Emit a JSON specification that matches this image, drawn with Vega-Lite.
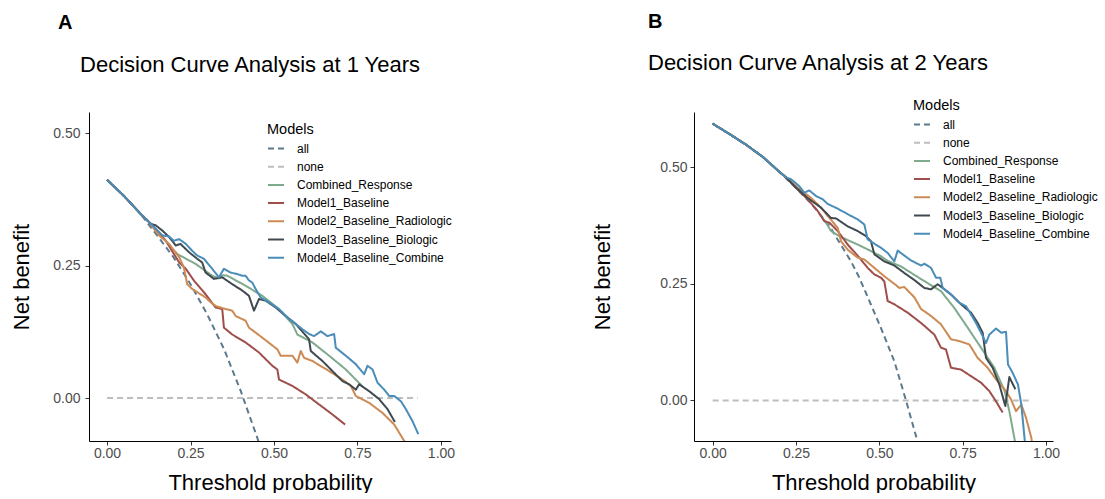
{
  "$schema": "https://vega.github.io/schema/vega-lite/v6.json",
  "padding": {"left": 10, "top": 12, "right": 0, "bottom": 0},
  "background": "white",
  "config": {
    "font": "Liberation Sans",
    "view": {"stroke": null},
    "axis": {"grid": false, "domainColor": "#000000", "domainWidth": 1, "tickColor": "#333333", "tickSize": 4, "tickWidth": 1, "labelColor": "#4D4D4D", "labelFontSize": 14, "labelFont": "Liberation Sans", "titleFont": "Liberation Sans", "titleFontSize": 22, "titleFontWeight": "normal", "titleColor": "#000000"},
    "legend": {"padding": 0}
  },
  "datasets": {
    "A": [
      {"m":"all","t":0,"nb":0.412},{"m":"all","t":0.05,"nb":0.382},{"m":"all","t":0.1,"nb":0.348},{"m":"all","t":0.15,"nb":0.307},{"m":"all","t":0.2,"nb":0.265},{"m":"all","t":0.25,"nb":0.215},{"m":"all","t":0.3,"nb":0.158},{"m":"all","t":0.35,"nb":0.093},{"m":"all","t":0.4,"nb":0.014},{"m":"all","t":0.45,"nb":-0.075},{"m":"all","t":0.47,"nb":-0.115},
      {"m":"none","t":0,"nb":0},{"m":"none","t":0.93,"nb":0},
      {"m":"Combined_Response","t":0.205,"nb":0.276},{"m":"Combined_Response","t":0.21,"nb":0.272},{"m":"Combined_Response","t":0.266,"nb":0.253},{"m":"Combined_Response","t":0.315,"nb":0.231},{"m":"Combined_Response","t":0.335,"nb":0.226},{"m":"Combined_Response","t":0.345,"nb":0.232},{"m":"Combined_Response","t":0.36,"nb":0.231},{"m":"Combined_Response","t":0.415,"nb":0.212},{"m":"Combined_Response","t":0.465,"nb":0.193},{"m":"Combined_Response","t":0.515,"nb":0.168},{"m":"Combined_Response","t":0.555,"nb":0.14},{"m":"Combined_Response","t":0.57,"nb":0.12},{"m":"Combined_Response","t":0.615,"nb":0.105},{"m":"Combined_Response","t":0.665,"nb":0.08},{"m":"Combined_Response","t":0.715,"nb":0.054},{"m":"Combined_Response","t":0.765,"nb":0.022},
      {"m":"Model1_Baseline","t":0,"nb":0.412},{"m":"Model1_Baseline","t":0.05,"nb":0.382},{"m":"Model1_Baseline","t":0.1,"nb":0.348},{"m":"Model1_Baseline","t":0.131,"nb":0.329},{"m":"Model1_Baseline","t":0.146,"nb":0.319},{"m":"Model1_Baseline","t":0.176,"nb":0.297},{"m":"Model1_Baseline","t":0.216,"nb":0.256},{"m":"Model1_Baseline","t":0.236,"nb":0.244},{"m":"Model1_Baseline","t":0.26,"nb":0.222},{"m":"Model1_Baseline","t":0.295,"nb":0.196},{"m":"Model1_Baseline","t":0.325,"nb":0.171},{"m":"Model1_Baseline","t":0.345,"nb":0.168},{"m":"Model1_Baseline","t":0.35,"nb":0.133},{"m":"Model1_Baseline","t":0.375,"nb":0.12},{"m":"Model1_Baseline","t":0.415,"nb":0.105},{"m":"Model1_Baseline","t":0.455,"nb":0.086},{"m":"Model1_Baseline","t":0.495,"nb":0.061},{"m":"Model1_Baseline","t":0.51,"nb":0.054},{"m":"Model1_Baseline","t":0.515,"nb":0.035},{"m":"Model1_Baseline","t":0.555,"nb":0.023},{"m":"Model1_Baseline","t":0.595,"nb":0.007},{"m":"Model1_Baseline","t":0.635,"nb":-0.012},{"m":"Model1_Baseline","t":0.675,"nb":-0.031},{"m":"Model1_Baseline","t":0.713,"nb":-0.05},
      {"m":"Model2_Baseline_Radiologic","t":0,"nb":0.412},{"m":"Model2_Baseline_Radiologic","t":0.05,"nb":0.382},{"m":"Model2_Baseline_Radiologic","t":0.1,"nb":0.348},{"m":"Model2_Baseline_Radiologic","t":0.131,"nb":0.329},{"m":"Model2_Baseline_Radiologic","t":0.141,"nb":0.319},{"m":"Model2_Baseline_Radiologic","t":0.156,"nb":0.307},{"m":"Model2_Baseline_Radiologic","t":0.186,"nb":0.291},{"m":"Model2_Baseline_Radiologic","t":0.216,"nb":0.266},{"m":"Model2_Baseline_Radiologic","t":0.23,"nb":0.247},{"m":"Model2_Baseline_Radiologic","t":0.24,"nb":0.215},{"m":"Model2_Baseline_Radiologic","t":0.255,"nb":0.206},{"m":"Model2_Baseline_Radiologic","t":0.27,"nb":0.2},{"m":"Model2_Baseline_Radiologic","t":0.295,"nb":0.19},{"m":"Model2_Baseline_Radiologic","t":0.31,"nb":0.181},{"m":"Model2_Baseline_Radiologic","t":0.325,"nb":0.174},{"m":"Model2_Baseline_Radiologic","t":0.34,"nb":0.171},{"m":"Model2_Baseline_Radiologic","t":0.355,"nb":0.168},{"m":"Model2_Baseline_Radiologic","t":0.375,"nb":0.165},{"m":"Model2_Baseline_Radiologic","t":0.385,"nb":0.155},{"m":"Model2_Baseline_Radiologic","t":0.415,"nb":0.146},{"m":"Model2_Baseline_Radiologic","t":0.425,"nb":0.133},{"m":"Model2_Baseline_Radiologic","t":0.465,"nb":0.114},{"m":"Model2_Baseline_Radiologic","t":0.51,"nb":0.092},{"m":"Model2_Baseline_Radiologic","t":0.52,"nb":0.08},{"m":"Model2_Baseline_Radiologic","t":0.555,"nb":0.08},{"m":"Model2_Baseline_Radiologic","t":0.57,"nb":0.067},{"m":"Model2_Baseline_Radiologic","t":0.58,"nb":0.089},{"m":"Model2_Baseline_Radiologic","t":0.59,"nb":0.076},{"m":"Model2_Baseline_Radiologic","t":0.615,"nb":0.07},{"m":"Model2_Baseline_Radiologic","t":0.665,"nb":0.051},{"m":"Model2_Baseline_Radiologic","t":0.705,"nb":0.035},{"m":"Model2_Baseline_Radiologic","t":0.73,"nb":0.023},{"m":"Model2_Baseline_Radiologic","t":0.745,"nb":0.004},{"m":"Model2_Baseline_Radiologic","t":0.785,"nb":-0.009},{"m":"Model2_Baseline_Radiologic","t":0.825,"nb":-0.028},{"m":"Model2_Baseline_Radiologic","t":0.86,"nb":-0.05},{"m":"Model2_Baseline_Radiologic","t":0.89,"nb":-0.081},{"m":"Model2_Baseline_Radiologic","t":0.9,"nb":-0.1},
      {"m":"Model3_Baseline_Biologic","t":0,"nb":0.412},{"m":"Model3_Baseline_Biologic","t":0.05,"nb":0.382},{"m":"Model3_Baseline_Biologic","t":0.1,"nb":0.348},{"m":"Model3_Baseline_Biologic","t":0.131,"nb":0.329},{"m":"Model3_Baseline_Biologic","t":0.146,"nb":0.326},{"m":"Model3_Baseline_Biologic","t":0.166,"nb":0.316},{"m":"Model3_Baseline_Biologic","t":0.186,"nb":0.304},{"m":"Model3_Baseline_Biologic","t":0.206,"nb":0.288},{"m":"Model3_Baseline_Biologic","t":0.22,"nb":0.291},{"m":"Model3_Baseline_Biologic","t":0.246,"nb":0.275},{"m":"Model3_Baseline_Biologic","t":0.27,"nb":0.263},{"m":"Model3_Baseline_Biologic","t":0.285,"nb":0.256},{"m":"Model3_Baseline_Biologic","t":0.295,"nb":0.237},{"m":"Model3_Baseline_Biologic","t":0.32,"nb":0.225},{"m":"Model3_Baseline_Biologic","t":0.345,"nb":0.228},{"m":"Model3_Baseline_Biologic","t":0.375,"nb":0.215},{"m":"Model3_Baseline_Biologic","t":0.405,"nb":0.203},{"m":"Model3_Baseline_Biologic","t":0.425,"nb":0.193},{"m":"Model3_Baseline_Biologic","t":0.44,"nb":0.165},{"m":"Model3_Baseline_Biologic","t":0.455,"nb":0.187},{"m":"Model3_Baseline_Biologic","t":0.475,"nb":0.184},{"m":"Model3_Baseline_Biologic","t":0.505,"nb":0.171},{"m":"Model3_Baseline_Biologic","t":0.535,"nb":0.155},{"m":"Model3_Baseline_Biologic","t":0.565,"nb":0.14},{"m":"Model3_Baseline_Biologic","t":0.605,"nb":0.111},{"m":"Model3_Baseline_Biologic","t":0.61,"nb":0.089},{"m":"Model3_Baseline_Biologic","t":0.645,"nb":0.07},{"m":"Model3_Baseline_Biologic","t":0.675,"nb":0.051},{"m":"Model3_Baseline_Biologic","t":0.705,"nb":0.032},{"m":"Model3_Baseline_Biologic","t":0.725,"nb":0.026},{"m":"Model3_Baseline_Biologic","t":0.745,"nb":0.016},{"m":"Model3_Baseline_Biologic","t":0.755,"nb":0.026},{"m":"Model3_Baseline_Biologic","t":0.785,"nb":0.013},{"m":"Model3_Baseline_Biologic","t":0.815,"nb":-0.002},{"m":"Model3_Baseline_Biologic","t":0.84,"nb":-0.021},{"m":"Model3_Baseline_Biologic","t":0.862,"nb":-0.045},
      {"m":"Model4_Baseline_Combine","t":0,"nb":0.412},{"m":"Model4_Baseline_Combine","t":0.05,"nb":0.382},{"m":"Model4_Baseline_Combine","t":0.1,"nb":0.348},{"m":"Model4_Baseline_Combine","t":0.131,"nb":0.329},{"m":"Model4_Baseline_Combine","t":0.166,"nb":0.307},{"m":"Model4_Baseline_Combine","t":0.186,"nb":0.305},{"m":"Model4_Baseline_Combine","t":0.2,"nb":0.297},{"m":"Model4_Baseline_Combine","t":0.216,"nb":0.3},{"m":"Model4_Baseline_Combine","t":0.236,"nb":0.291},{"m":"Model4_Baseline_Combine","t":0.255,"nb":0.278},{"m":"Model4_Baseline_Combine","t":0.27,"nb":0.269},{"m":"Model4_Baseline_Combine","t":0.29,"nb":0.263},{"m":"Model4_Baseline_Combine","t":0.315,"nb":0.244},{"m":"Model4_Baseline_Combine","t":0.335,"nb":0.228},{"m":"Model4_Baseline_Combine","t":0.35,"nb":0.244},{"m":"Model4_Baseline_Combine","t":0.37,"nb":0.237},{"m":"Model4_Baseline_Combine","t":0.39,"nb":0.234},{"m":"Model4_Baseline_Combine","t":0.405,"nb":0.231},{"m":"Model4_Baseline_Combine","t":0.415,"nb":0.231},{"m":"Model4_Baseline_Combine","t":0.425,"nb":0.222},{"m":"Model4_Baseline_Combine","t":0.435,"nb":0.218},{"m":"Model4_Baseline_Combine","t":0.445,"nb":0.206},{"m":"Model4_Baseline_Combine","t":0.46,"nb":0.19},{"m":"Model4_Baseline_Combine","t":0.485,"nb":0.181},{"m":"Model4_Baseline_Combine","t":0.515,"nb":0.168},{"m":"Model4_Baseline_Combine","t":0.545,"nb":0.149},{"m":"Model4_Baseline_Combine","t":0.565,"nb":0.14},{"m":"Model4_Baseline_Combine","t":0.585,"nb":0.13},{"m":"Model4_Baseline_Combine","t":0.605,"nb":0.121},{"m":"Model4_Baseline_Combine","t":0.62,"nb":0.117},{"m":"Model4_Baseline_Combine","t":0.64,"nb":0.126},{"m":"Model4_Baseline_Combine","t":0.66,"nb":0.117},{"m":"Model4_Baseline_Combine","t":0.68,"nb":0.121},{"m":"Model4_Baseline_Combine","t":0.685,"nb":0.095},{"m":"Model4_Baseline_Combine","t":0.715,"nb":0.08},{"m":"Model4_Baseline_Combine","t":0.745,"nb":0.064},{"m":"Model4_Baseline_Combine","t":0.77,"nb":0.045},{"m":"Model4_Baseline_Combine","t":0.78,"nb":0.061},{"m":"Model4_Baseline_Combine","t":0.795,"nb":0.054},{"m":"Model4_Baseline_Combine","t":0.81,"nb":0.029},{"m":"Model4_Baseline_Combine","t":0.83,"nb":0.016},{"m":"Model4_Baseline_Combine","t":0.845,"nb":0.004},{"m":"Model4_Baseline_Combine","t":0.86,"nb":0.004},{"m":"Model4_Baseline_Combine","t":0.88,"nb":-0.006},{"m":"Model4_Baseline_Combine","t":0.895,"nb":-0.021},{"m":"Model4_Baseline_Combine","t":0.915,"nb":-0.044},{"m":"Model4_Baseline_Combine","t":0.932,"nb":-0.068}
    ],
    "B": [
      {"m":"all","t":0,"nb":0.593},{"m":"all","t":0.05,"nb":0.571},{"m":"all","t":0.1,"nb":0.548},{"m":"all","t":0.15,"nb":0.522},{"m":"all","t":0.2,"nb":0.49},{"m":"all","t":0.25,"nb":0.455},{"m":"all","t":0.3,"nb":0.418},{"m":"all","t":0.35,"nb":0.374},{"m":"all","t":0.39,"nb":0.327},{"m":"all","t":0.415,"nb":0.298},{"m":"all","t":0.44,"nb":0.263},{"m":"all","t":0.475,"nb":0.205},{"m":"all","t":0.505,"nb":0.155},{"m":"all","t":0.545,"nb":0.084},{"m":"all","t":0.58,"nb":0},{"m":"all","t":0.607,"nb":-0.069},{"m":"all","t":0.62,"nb":-0.1},
      {"m":"none","t":0,"nb":0},{"m":"none","t":0.95,"nb":0},
      {"m":"Combined_Response","t":0.33,"nb":0.39},{"m":"Combined_Response","t":0.34,"nb":0.381},{"m":"Combined_Response","t":0.355,"nb":0.363},{"m":"Combined_Response","t":0.385,"nb":0.35},{"m":"Combined_Response","t":0.435,"nb":0.334},{"m":"Combined_Response","t":0.475,"nb":0.32},{"m":"Combined_Response","t":0.505,"nb":0.309},{"m":"Combined_Response","t":0.525,"nb":0.299},{"m":"Combined_Response","t":0.565,"nb":0.287},{"m":"Combined_Response","t":0.625,"nb":0.26},{"m":"Combined_Response","t":0.685,"nb":0.234},{"m":"Combined_Response","t":0.725,"nb":0.198},{"m":"Combined_Response","t":0.765,"nb":0.156},{"m":"Combined_Response","t":0.805,"nb":0.113},{"m":"Combined_Response","t":0.845,"nb":0.07},{"m":"Combined_Response","t":0.876,"nb":0.02},{"m":"Combined_Response","t":0.89,"nb":-0.023},{"m":"Combined_Response","t":0.906,"nb":-0.084},{"m":"Combined_Response","t":0.91,"nb":-0.11},
      {"m":"Model1_Baseline","t":0,"nb":0.593},{"m":"Model1_Baseline","t":0.05,"nb":0.571},{"m":"Model1_Baseline","t":0.1,"nb":0.548},{"m":"Model1_Baseline","t":0.15,"nb":0.522},{"m":"Model1_Baseline","t":0.2,"nb":0.49},{"m":"Model1_Baseline","t":0.22,"nb":0.478},{"m":"Model1_Baseline","t":0.255,"nb":0.452},{"m":"Model1_Baseline","t":0.285,"nb":0.431},{"m":"Model1_Baseline","t":0.315,"nb":0.406},{"m":"Model1_Baseline","t":0.335,"nb":0.384},{"m":"Model1_Baseline","t":0.35,"nb":0.381},{"m":"Model1_Baseline","t":0.375,"nb":0.363},{"m":"Model1_Baseline","t":0.405,"nb":0.334},{"m":"Model1_Baseline","t":0.44,"nb":0.306},{"m":"Model1_Baseline","t":0.465,"nb":0.284},{"m":"Model1_Baseline","t":0.485,"nb":0.27},{"m":"Model1_Baseline","t":0.505,"nb":0.263},{"m":"Model1_Baseline","t":0.515,"nb":0.255},{"m":"Model1_Baseline","t":0.525,"nb":0.213},{"m":"Model1_Baseline","t":0.545,"nb":0.206},{"m":"Model1_Baseline","t":0.585,"nb":0.188},{"m":"Model1_Baseline","t":0.625,"nb":0.166},{"m":"Model1_Baseline","t":0.665,"nb":0.141},{"m":"Model1_Baseline","t":0.685,"nb":0.113},{"m":"Model1_Baseline","t":0.7,"nb":0.109},{"m":"Model1_Baseline","t":0.715,"nb":0.07},{"m":"Model1_Baseline","t":0.745,"nb":0.066},{"m":"Model1_Baseline","t":0.775,"nb":0.052},{"m":"Model1_Baseline","t":0.805,"nb":0.038},{"m":"Model1_Baseline","t":0.83,"nb":0.02},{"m":"Model1_Baseline","t":0.85,"nb":-0.002},{"m":"Model1_Baseline","t":0.87,"nb":-0.026},
      {"m":"Model2_Baseline_Radiologic","t":0,"nb":0.593},{"m":"Model2_Baseline_Radiologic","t":0.05,"nb":0.571},{"m":"Model2_Baseline_Radiologic","t":0.1,"nb":0.548},{"m":"Model2_Baseline_Radiologic","t":0.15,"nb":0.522},{"m":"Model2_Baseline_Radiologic","t":0.2,"nb":0.49},{"m":"Model2_Baseline_Radiologic","t":0.22,"nb":0.478},{"m":"Model2_Baseline_Radiologic","t":0.255,"nb":0.456},{"m":"Model2_Baseline_Radiologic","t":0.295,"nb":0.434},{"m":"Model2_Baseline_Radiologic","t":0.325,"nb":0.413},{"m":"Model2_Baseline_Radiologic","t":0.35,"nb":0.391},{"m":"Model2_Baseline_Radiologic","t":0.375,"nb":0.37},{"m":"Model2_Baseline_Radiologic","t":0.385,"nb":0.341},{"m":"Model2_Baseline_Radiologic","t":0.405,"nb":0.323},{"m":"Model2_Baseline_Radiologic","t":0.435,"nb":0.306},{"m":"Model2_Baseline_Radiologic","t":0.455,"nb":0.302},{"m":"Model2_Baseline_Radiologic","t":0.485,"nb":0.284},{"m":"Model2_Baseline_Radiologic","t":0.515,"nb":0.266},{"m":"Model2_Baseline_Radiologic","t":0.55,"nb":0.247},{"m":"Model2_Baseline_Radiologic","t":0.56,"nb":0.241},{"m":"Model2_Baseline_Radiologic","t":0.575,"nb":0.243},{"m":"Model2_Baseline_Radiologic","t":0.605,"nb":0.221},{"m":"Model2_Baseline_Radiologic","t":0.625,"nb":0.196},{"m":"Model2_Baseline_Radiologic","t":0.655,"nb":0.181},{"m":"Model2_Baseline_Radiologic","t":0.685,"nb":0.163},{"m":"Model2_Baseline_Radiologic","t":0.715,"nb":0.131},{"m":"Model2_Baseline_Radiologic","t":0.74,"nb":0.127},{"m":"Model2_Baseline_Radiologic","t":0.77,"nb":0.12},{"m":"Model2_Baseline_Radiologic","t":0.795,"nb":0.091},{"m":"Model2_Baseline_Radiologic","t":0.825,"nb":0.07},{"m":"Model2_Baseline_Radiologic","t":0.85,"nb":0.045},{"m":"Model2_Baseline_Radiologic","t":0.88,"nb":0.02},{"m":"Model2_Baseline_Radiologic","t":0.895,"nb":0.002},{"m":"Model2_Baseline_Radiologic","t":0.91,"nb":-0.023},{"m":"Model2_Baseline_Radiologic","t":0.926,"nb":-0.009},{"m":"Model2_Baseline_Radiologic","t":0.94,"nb":-0.037},{"m":"Model2_Baseline_Radiologic","t":0.956,"nb":-0.08},{"m":"Model2_Baseline_Radiologic","t":0.96,"nb":-0.1},
      {"m":"Model3_Baseline_Biologic","t":0,"nb":0.593},{"m":"Model3_Baseline_Biologic","t":0.05,"nb":0.571},{"m":"Model3_Baseline_Biologic","t":0.1,"nb":0.548},{"m":"Model3_Baseline_Biologic","t":0.15,"nb":0.522},{"m":"Model3_Baseline_Biologic","t":0.2,"nb":0.49},{"m":"Model3_Baseline_Biologic","t":0.22,"nb":0.478},{"m":"Model3_Baseline_Biologic","t":0.25,"nb":0.456},{"m":"Model3_Baseline_Biologic","t":0.285,"nb":0.434},{"m":"Model3_Baseline_Biologic","t":0.325,"nb":0.413},{"m":"Model3_Baseline_Biologic","t":0.355,"nb":0.391},{"m":"Model3_Baseline_Biologic","t":0.37,"nb":0.39},{"m":"Model3_Baseline_Biologic","t":0.405,"nb":0.373},{"m":"Model3_Baseline_Biologic","t":0.435,"nb":0.363},{"m":"Model3_Baseline_Biologic","t":0.46,"nb":0.352},{"m":"Model3_Baseline_Biologic","t":0.475,"nb":0.341},{"m":"Model3_Baseline_Biologic","t":0.485,"nb":0.313},{"m":"Model3_Baseline_Biologic","t":0.515,"nb":0.298},{"m":"Model3_Baseline_Biologic","t":0.545,"nb":0.289},{"m":"Model3_Baseline_Biologic","t":0.575,"nb":0.273},{"m":"Model3_Baseline_Biologic","t":0.605,"nb":0.258},{"m":"Model3_Baseline_Biologic","t":0.635,"nb":0.241},{"m":"Model3_Baseline_Biologic","t":0.655,"nb":0.238},{"m":"Model3_Baseline_Biologic","t":0.675,"nb":0.249},{"m":"Model3_Baseline_Biologic","t":0.69,"nb":0.241},{"m":"Model3_Baseline_Biologic","t":0.715,"nb":0.227},{"m":"Model3_Baseline_Biologic","t":0.745,"nb":0.206},{"m":"Model3_Baseline_Biologic","t":0.775,"nb":0.188},{"m":"Model3_Baseline_Biologic","t":0.795,"nb":0.166},{"m":"Model3_Baseline_Biologic","t":0.81,"nb":0.145},{"m":"Model3_Baseline_Biologic","t":0.82,"nb":0.091},{"m":"Model3_Baseline_Biologic","t":0.84,"nb":0.07},{"m":"Model3_Baseline_Biologic","t":0.86,"nb":0.034},{"m":"Model3_Baseline_Biologic","t":0.878,"nb":-0.012},{"m":"Model3_Baseline_Biologic","t":0.89,"nb":0.05},{"m":"Model3_Baseline_Biologic","t":0.908,"nb":0.024},
      {"m":"Model4_Baseline_Combine","t":0,"nb":0.593},{"m":"Model4_Baseline_Combine","t":0.05,"nb":0.571},{"m":"Model4_Baseline_Combine","t":0.1,"nb":0.548},{"m":"Model4_Baseline_Combine","t":0.15,"nb":0.522},{"m":"Model4_Baseline_Combine","t":0.2,"nb":0.49},{"m":"Model4_Baseline_Combine","t":0.22,"nb":0.478},{"m":"Model4_Baseline_Combine","t":0.235,"nb":0.474},{"m":"Model4_Baseline_Combine","t":0.26,"nb":0.459},{"m":"Model4_Baseline_Combine","t":0.275,"nb":0.445},{"m":"Model4_Baseline_Combine","t":0.29,"nb":0.45},{"m":"Model4_Baseline_Combine","t":0.31,"nb":0.438},{"m":"Model4_Baseline_Combine","t":0.33,"nb":0.431},{"m":"Model4_Baseline_Combine","t":0.345,"nb":0.421},{"m":"Model4_Baseline_Combine","t":0.375,"nb":0.411},{"m":"Model4_Baseline_Combine","t":0.405,"nb":0.399},{"m":"Model4_Baseline_Combine","t":0.435,"nb":0.388},{"m":"Model4_Baseline_Combine","t":0.455,"nb":0.377},{"m":"Model4_Baseline_Combine","t":0.465,"nb":0.345},{"m":"Model4_Baseline_Combine","t":0.48,"nb":0.338},{"m":"Model4_Baseline_Combine","t":0.505,"nb":0.327},{"m":"Model4_Baseline_Combine","t":0.525,"nb":0.316},{"m":"Model4_Baseline_Combine","t":0.545,"nb":0.298},{"m":"Model4_Baseline_Combine","t":0.555,"nb":0.321},{"m":"Model4_Baseline_Combine","t":0.57,"nb":0.313},{"m":"Model4_Baseline_Combine","t":0.595,"nb":0.3},{"m":"Model4_Baseline_Combine","t":0.625,"nb":0.289},{"m":"Model4_Baseline_Combine","t":0.635,"nb":0.293},{"m":"Model4_Baseline_Combine","t":0.655,"nb":0.284},{"m":"Model4_Baseline_Combine","t":0.67,"nb":0.263},{"m":"Model4_Baseline_Combine","t":0.683,"nb":0.263},{"m":"Model4_Baseline_Combine","t":0.69,"nb":0.241},{"m":"Model4_Baseline_Combine","t":0.715,"nb":0.227},{"m":"Model4_Baseline_Combine","t":0.74,"nb":0.209},{"m":"Model4_Baseline_Combine","t":0.76,"nb":0.202},{"m":"Model4_Baseline_Combine","t":0.775,"nb":0.184},{"m":"Model4_Baseline_Combine","t":0.79,"nb":0.166},{"m":"Model4_Baseline_Combine","t":0.805,"nb":0.145},{"m":"Model4_Baseline_Combine","t":0.82,"nb":0.123},{"m":"Model4_Baseline_Combine","t":0.83,"nb":0.141},{"m":"Model4_Baseline_Combine","t":0.85,"nb":0.154},{"m":"Model4_Baseline_Combine","t":0.866,"nb":0.145},{"m":"Model4_Baseline_Combine","t":0.88,"nb":0.147},{"m":"Model4_Baseline_Combine","t":0.886,"nb":0.077},{"m":"Model4_Baseline_Combine","t":0.9,"nb":0.059},{"m":"Model4_Baseline_Combine","t":0.916,"nb":0.034},{"m":"Model4_Baseline_Combine","t":0.926,"nb":-0.009},{"m":"Model4_Baseline_Combine","t":0.936,"nb":-0.084},{"m":"Model4_Baseline_Combine","t":0.94,"nb":-0.11}
    ]
  },
  "resolve": {"scale": {"color": "independent", "strokeDash": "independent"}, "legend": {"color": "independent", "strokeDash": "independent"}},
  "spacing": 136,
  "hconcat": [
    {
      "width": 362, "height": 329,
      "data": {"name": "A"},
      "title": {"text": "A", "subtitle": "\u2800 Decision Curve Analysis at 1 Years", "anchor": "start", "frame": "group", "dx": -31, "font": "Liberation Sans", "fontSize": 20, "fontWeight": "bold", "color": "#000000", "subtitleFont": "Liberation Sans", "subtitleFontSize": 22, "subtitleColor": "#000000", "subtitlePadding": 22, "offset": 36},
      "encoding": {
        "x": {"field": "t", "type": "quantitative", "scale": {"domain": [-0.054, 1.03], "nice": false, "zero": false}, "axis": {"values": [0, 0.25, 0.5, 0.75, 1], "format": ".2f", "title": "Threshold probability", "labelPadding": 1, "titlePadding": 12}},
        "y": {"field": "nb", "type": "quantitative", "scale": {"domain": [-0.081, 0.54], "nice": false, "zero": false}, "axis": {"values": [0, 0.25, 0.5], "format": ".2f", "title": "Net benefit", "labelPadding": 5, "titlePadding": 19}},
        "color": {"field": "m", "type": "nominal", "title": "Models",
          "scale": {"domain": ["all", "none", "Combined_Response", "Model1_Baseline", "Model2_Baseline_Radiologic", "Model3_Baseline_Biologic", "Model4_Baseline_Combine"], "range": ["#5C7A8C", "#BDBDBD", "#7FAA8E", "#9E4E4B", "#CC8A55", "#3F4A50", "#4A8DB9"]},
          "legend": {"orient": "none", "legendX": 178, "legendY": 11, "symbolType": "stroke", "symbolSize": 256, "symbolStrokeWidth": 2, "labelFontSize": 12, "labelFont": "Liberation Sans", "labelColor": "#000000", "titleFont": "Liberation Sans", "titleFontSize": 14.5, "titleFontWeight": "normal", "titleColor": "#000000", "titlePadding": 2, "rowPadding": 3.2, "labelOffset": 12, "padding": 0}},
        "strokeDash": {"field": "m", "type": "nominal", "title": "Models",
          "scale": {"domain": ["all", "none", "Combined_Response", "Model1_Baseline", "Model2_Baseline_Radiologic", "Model3_Baseline_Biologic", "Model4_Baseline_Combine"], "range": [[6, 4], [6, 4], [1, 0], [1, 0], [1, 0], [1, 0], [1, 0]]},
          "legend": {"orient": "none", "legendX": 178, "legendY": 11, "symbolType": "stroke", "symbolSize": 256, "symbolStrokeWidth": 2, "labelFontSize": 12, "labelFont": "Liberation Sans", "labelColor": "#000000", "titleFont": "Liberation Sans", "titleFontSize": 14.5, "titleFontWeight": "normal", "titleColor": "#000000", "titlePadding": 2, "rowPadding": 3.2, "labelOffset": 12, "padding": 0}}
      },
      "layer": [
        {"transform": [{"filter": "datum.m === 'all' || datum.m === 'none'"}], "mark": {"type": "line", "clip": true, "strokeWidth": 2, "strokeJoin": "round"}},
        {"transform": [{"filter": "datum.m !== 'all' && datum.m !== 'none'"}], "mark": {"type": "line", "clip": true, "strokeWidth": 2, "strokeJoin": "round"}}
      ]
    },
    {
      "width": 359, "height": 329,
      "data": {"name": "B"},
      "title": {"text": "B", "subtitle": "Decision Curve Analysis at 2 Years", "anchor": "start", "frame": "group", "dx": -46, "font": "Liberation Sans", "fontSize": 20, "fontWeight": "bold", "color": "#000000", "subtitleFont": "Liberation Sans", "subtitleFontSize": 22, "subtitleColor": "#000000", "subtitlePadding": 21, "offset": 25},
      "encoding": {
        "x": {"field": "t", "type": "quantitative", "scale": {"domain": [-0.056, 1.021], "nice": false, "zero": false}, "axis": {"values": [0, 0.25, 0.5, 0.75, 1], "format": ".2f", "title": "Threshold probability", "labelPadding": 1, "titlePadding": 12}},
        "y": {"field": "nb", "type": "quantitative", "scale": {"domain": [-0.087, 0.618], "nice": false, "zero": false}, "axis": {"values": [0, 0.25, 0.5], "format": ".2f", "title": "Net benefit", "labelPadding": 3, "titlePadding": 45}},
        "color": {"field": "m", "type": "nominal", "title": "Models",
          "scale": {"domain": ["all", "none", "Combined_Response", "Model1_Baseline", "Model2_Baseline_Radiologic", "Model3_Baseline_Biologic", "Model4_Baseline_Combine"], "range": ["#5C7A8C", "#BDBDBD", "#7FAA8E", "#9E4E4B", "#CC8A55", "#3F4A50", "#4A8DB9"]},
          "legend": {"orient": "none", "legendX": 219, "legendY": -13, "symbolType": "stroke", "symbolSize": 256, "symbolStrokeWidth": 2, "labelFontSize": 12, "labelFont": "Liberation Sans", "labelColor": "#000000", "titleFont": "Liberation Sans", "titleFontSize": 14.5, "titleFontWeight": "normal", "titleColor": "#000000", "titlePadding": 2, "rowPadding": 3.2, "labelOffset": 12, "padding": 0}},
        "strokeDash": {"field": "m", "type": "nominal", "title": "Models",
          "scale": {"domain": ["all", "none", "Combined_Response", "Model1_Baseline", "Model2_Baseline_Radiologic", "Model3_Baseline_Biologic", "Model4_Baseline_Combine"], "range": [[6, 4], [6, 4], [1, 0], [1, 0], [1, 0], [1, 0], [1, 0]]},
          "legend": {"orient": "none", "legendX": 219, "legendY": -13, "symbolType": "stroke", "symbolSize": 256, "symbolStrokeWidth": 2, "labelFontSize": 12, "labelFont": "Liberation Sans", "labelColor": "#000000", "titleFont": "Liberation Sans", "titleFontSize": 14.5, "titleFontWeight": "normal", "titleColor": "#000000", "titlePadding": 2, "rowPadding": 3.2, "labelOffset": 12, "padding": 0}}
      },
      "layer": [
        {"transform": [{"filter": "datum.m === 'all' || datum.m === 'none'"}], "mark": {"type": "line", "clip": true, "strokeWidth": 2, "strokeJoin": "round"}},
        {"transform": [{"filter": "datum.m !== 'all' && datum.m !== 'none'"}], "mark": {"type": "line", "clip": true, "strokeWidth": 2, "strokeJoin": "round"}}
      ]
    }
  ]
}
